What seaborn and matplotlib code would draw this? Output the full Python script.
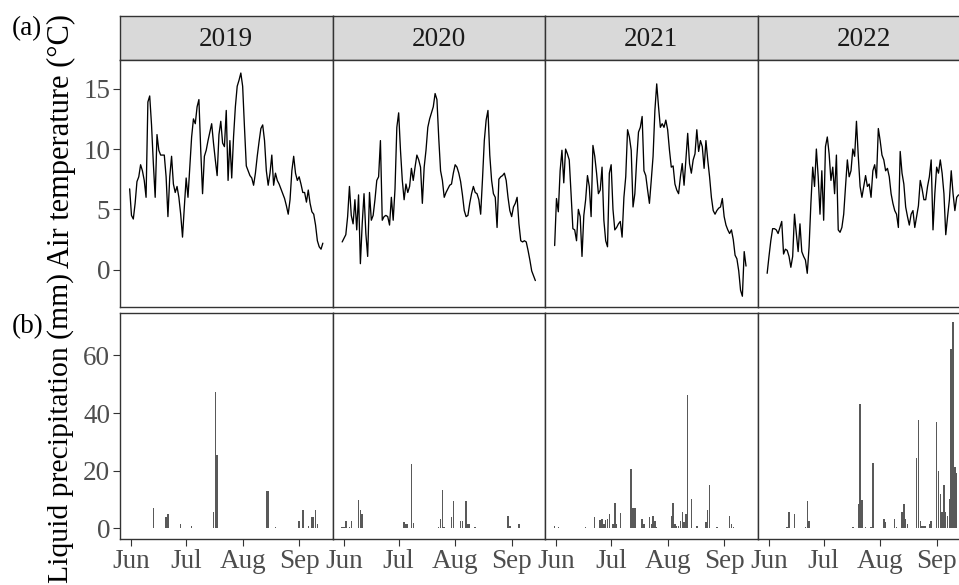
import numpy as np
import pandas as pd
import matplotlib
matplotlib.use("Agg")
import matplotlib.pyplot as plt
import seaborn as sns

# ---------------------------------------------------------------------------
# Daily series, 31 May onwards (index 0 = 31 May)
# ---------------------------------------------------------------------------
years = [2019, 2020, 2021, 2022]
month_labels = ["Jun", "Jul", "Aug", "Sep"]

temp_2019 = [6.7, 4.5, 4.2, 5.5, 7.3, 7.7, 8.7, 8.2, 7.4, 6.0,
             13.9, 14.4, 12.0, 8.8, 6.0, 11.2, 9.9, 9.5, 9.5, 9.5,
             7.7, 4.4, 7.7, 9.4, 7.1, 6.4, 6.9, 6.0, 4.6, 2.7,
             5.2, 7.6, 6.0, 8.5, 11.0, 12.5, 12.1, 13.5, 14.1, 9.9,
             6.3, 9.4, 9.9, 10.7, 11.4, 12.1, 10.5, 9.1, 7.8, 11.2,
             12.3, 10.5, 10.2, 13.2, 7.4, 10.7, 7.6, 11.0, 13.5, 15.2,
             15.7, 16.3, 15.2, 11.8, 8.6, 8.2, 7.8, 7.6, 7.0, 8.0,
             9.4, 10.6, 11.7, 12.0, 10.7, 8.2, 7.0, 8.0, 9.5, 7.0,
             8.0, 7.4, 7.1, 6.7, 6.3, 5.9, 5.3, 4.6, 5.8, 8.2,
             9.4, 8.0, 7.4, 7.7, 7.1, 6.4, 6.4, 5.6, 6.6, 5.5,
             4.8, 4.6, 3.7, 2.4, 1.9, 1.7, 2.2]

temp_2020 = [2.3, 2.6, 2.9, 4.4, 6.9, 4.5, 3.8, 5.8, 3.3, 6.2,
             0.5, 3.8, 6.3, 3.0, 1.1, 6.4, 4.1, 4.5, 5.8, 7.4,
             7.7, 10.7, 4.1, 4.4, 4.5, 4.4, 3.7, 6.0, 4.1, 6.7,
             11.8, 13.0, 9.9, 7.4, 5.8, 7.1, 6.4, 6.9, 8.4, 7.4,
             8.5, 9.5, 9.1, 8.5, 5.5, 8.5, 9.9, 11.8, 12.5, 13.0,
             13.5, 14.6, 14.1, 10.9, 8.2, 7.4, 6.0, 6.4, 6.7, 7.0,
             7.1, 8.0, 8.7, 8.5, 8.0, 7.3, 6.2, 4.9, 4.4, 4.5,
             5.5, 6.3, 6.9, 6.4, 6.3, 5.8, 4.6, 7.5, 10.7, 12.4,
             13.2, 9.5, 7.4, 6.3, 6.0, 3.5, 7.5, 7.7, 7.8, 8.0,
             7.4, 6.0, 4.9, 4.4, 5.2, 5.5, 6.0, 3.8, 2.4, 2.3,
             2.4, 2.3, 1.6, 0.8, -0.1, -0.5, -0.9]

temp_2021 = [2.0, 5.9, 4.8, 8.2, 9.9, 7.2, 10.0, 9.6, 9.1, 6.3,
             3.4, 3.3, 2.4, 5.0, 4.4, 1.1, 4.5, 5.8, 7.8, 6.9,
             4.4, 10.3, 9.4, 8.0, 6.3, 6.6, 8.5, 4.1, 2.4, 1.9,
             8.0, 8.7, 5.0, 3.3, 3.5, 3.8, 4.0, 2.7, 6.0, 7.7,
             11.6, 11.0, 9.9, 5.2, 6.3, 9.1, 11.4, 11.8, 12.7, 8.2,
             7.8, 6.6, 5.5, 7.4, 9.4, 13.2, 15.4, 13.5, 11.8, 12.1,
             11.8, 12.4, 11.6, 9.9, 8.5, 8.6, 7.1, 6.6, 6.3, 7.7,
             8.8, 7.0, 9.1, 11.3, 8.8, 8.0, 9.1, 9.6, 11.6, 9.8,
             10.7, 10.2, 8.4, 10.7, 9.1, 7.7, 6.0, 4.9, 4.6, 4.9,
             5.1, 5.2, 5.9, 4.4, 3.7, 3.3, 3.0, 3.3, 2.5, 1.2,
             0.9, -0.1, -1.7, -2.2, 1.5, 0.3]

temp_2022 = [-0.3, 1.1, 2.4, 3.4, 3.4, 3.3, 3.0, 3.5, 4.0, 1.3,
             1.7, 1.6, 1.1, 0.2, 1.1, 4.6, 3.0, 1.5, 3.8, 1.5,
             1.1, 0.8, -0.3, 1.9, 5.5, 8.5, 6.9, 10.0, 7.7, 4.6,
             8.2, 4.1, 10.2, 11.0, 9.6, 7.4, 8.5, 6.3, 9.5, 3.3,
             3.1, 3.5, 4.6, 6.9, 9.1, 7.7, 8.2, 10.0, 9.4, 12.3,
             9.4, 6.9, 6.0, 6.9, 7.8, 6.9, 7.1, 6.0, 8.2, 8.7,
             7.6, 11.7, 10.7, 9.5, 9.1, 8.2, 8.4, 7.7, 6.3, 5.5,
             4.9, 4.6, 3.5, 9.8, 8.0, 7.1, 5.2, 4.4, 3.7, 4.6,
             4.9, 3.5, 4.4, 5.3, 7.4, 6.7, 5.8, 5.8, 6.9, 7.7,
             9.1, 3.3, 6.3, 8.5, 8.0, 9.1, 8.0, 6.3, 2.9, 4.4,
             5.8, 8.2, 6.3, 4.9, 6.0, 6.2]

# Rain days (index from 31 May) and liquid precipitation amounts (mm)
rain_day_2019 = [13, 20, 21, 28, 34, 46, 47, 48, 75, 76, 80, 93, 95, 98,
                 100, 101, 102, 103]
rain_mm_2019 = [7.1, 3.9, 5.0, 1.5, 0.9, 5.6, 47.4, 25.5, 12.8, 12.8, 0.4,
                2.7, 6.2, 0.9, 3.9, 3.9, 6.5, 1.5]

rain_day_2020 = [0, 1, 2, 4, 5, 9, 10, 11, 34, 35, 36, 38, 39, 53, 54, 55,
                 56, 60, 61, 65, 66, 68, 69, 70, 73, 91, 92, 97]
rain_mm_2020 = [0.3, 0.3, 2.7, 0.4, 2.5, 10.0, 6.2, 5.0, 2.3, 1.5, 1.5, 22.2,
                1.8, 0.5, 3.3, 13.2, 0.4, 3.9, 9.5, 2.7, 2.7, 9.5, 1.5, 1.5,
                0.4, 4.4, 0.9, 1.5]

rain_day_2021 = [0, 2, 17, 22, 25, 26, 27, 28, 29, 30, 32, 33, 34, 36, 42,
                 43, 44, 48, 49, 52, 53, 54, 55, 56, 64, 65, 66, 67, 68, 69,
                 70, 71, 72, 73, 75, 78, 83, 84, 85, 89, 96, 97, 98]
rain_mm_2021 = [0.9, 0.6, 0.6, 3.9, 2.9, 3.3, 1.5, 2.9, 3.3, 5.0, 1.5, 8.8,
                1.5, 5.4, 20.5, 7.1, 7.1, 3.3, 1.5, 3.9, 1.5, 4.4, 2.7, 0.6,
                4.4, 8.9, 1.5, 0.9, 0.9, 2.7, 5.6, 2.1, 4.8, 46.2, 10.3, 0.9,
                2.1, 6.2, 15.0, 0.4, 4.4, 1.5, 0.6]

rain_day_2022 = [11, 12, 15, 21, 22, 23, 47, 50, 51, 52, 54, 57, 58, 64, 65,
                 70, 71, 74, 75, 76, 77, 82, 83, 84, 85, 86, 87, 89, 90, 93,
                 94, 95, 96, 97, 98, 99, 100, 101, 102, 103, 104]
rain_mm_2022 = [0.6, 5.6, 5.0, 0.6, 9.5, 2.7, 0.6, 8.3, 43.0, 9.9, 0.6, 0.6,
                22.6, 3.3, 2.1, 3.3, 0.6, 5.6, 8.3, 3.3, 1.5, 24.3, 37.5, 2.7,
                0.9, 0.9, 0.9, 1.5, 2.5, 37.0, 19.9, 12.0, 5.6, 15.0, 5.6,
                4.4, 10.3, 62.3, 71.7, 21.4, 19.1]

temps = {2019: temp_2019, 2020: temp_2020, 2021: temp_2021, 2022: temp_2022}
rain_days = {2019: rain_day_2019, 2020: rain_day_2020,
             2021: rain_day_2021, 2022: rain_day_2022}
rain_mms = {2019: rain_mm_2019, 2020: rain_mm_2020,
            2021: rain_mm_2021, 2022: rain_mm_2022}

# ---------------------------------------------------------------------------
# Long tables; x = days since 1 June of the same year
# ---------------------------------------------------------------------------
t_rows, p_rows = [], []
for y in years:
    dates = pd.date_range(f"{y}-05-31", periods=len(temps[y]), freq="D")
    day = (dates - pd.Timestamp(f"{y}-06-01")).days
    t_rows.append(pd.DataFrame({"year": y, "day": day, "temp": temps[y]}))
    rain = np.zeros(len(dates))
    rain[rain_days[y]] = rain_mms[y]
    p_rows.append(pd.DataFrame({"year": y, "day": day, "rain": rain}))
df_t = pd.concat(t_rows, ignore_index=True)
df_p = pd.concat(p_rows, ignore_index=True)

month_ticks = [(pd.Timestamp(2019, m, 1) - pd.Timestamp(2019, 6, 1)).days
               for m in (6, 7, 8, 9)]
day_min, day_max = df_t["day"].min(), df_t["day"].max()
pad = 0.05 * (day_max - day_min)
xlim = (day_min - pad, day_max + pad)

# ---------------------------------------------------------------------------
# Figure
# ---------------------------------------------------------------------------
sns.set_theme(style="white")
plt.rcParams["font.family"] = ["Liberation Serif", "DejaVu Serif"]

W, H = 959, 585
fig = plt.figure(figsize=(W / 100, H / 100), dpi=100)


def add_ax(left, top, width, height):
    return fig.add_axes([left / W, 1 - (top + height) / H, width / W, height / H])


edge = "#333333"
tick_col = "#4D4D4D"
fs = 19.5
panel_w = 212.5

for i, y in enumerate(years):
    left = 120 + panel_w * i
    strip = add_ax(left, 16, panel_w, 44)
    ax_t = add_ax(left, 60, panel_w, 246.5)
    ax_p = add_ax(left, 313, panel_w, 226)

    # facet strip
    strip.set_facecolor("#D9D9D9")
    strip.set_xticks([])
    strip.set_yticks([])
    strip.text(0.5, 0.47, str(y), ha="center", va="center",
               fontsize=fs, color="#1A1A1A", transform=strip.transAxes)

    sns.lineplot(data=df_t[df_t["year"] == y], x="day", y="temp",
                 color="black", linewidth=0.95, estimator=None, ax=ax_t)
    sns.barplot(data=df_p[df_p["year"] == y], x="day", y="rain",
                native_scale=True, color="#595959", saturation=1,
                width=0.8, linewidth=0, errorbar=None, ax=ax_p)

    for ax in (strip, ax_t, ax_p):
        for s in ax.spines.values():
            s.set_color(edge)
            s.set_linewidth(1.0)
            s.set_visible(True)

    ax_t.set_xlim(xlim)
    ax_p.set_xlim(xlim)
    ax_t.set_ylim(-3.05, 17.38)
    ax_p.set_ylim(-3.7, 74.7)
    ax_t.set_yticks([0, 5, 10, 15])
    ax_p.set_yticks([0, 20, 40, 60])
    ax_t.set_xticks([])
    ax_p.set_xticks(month_ticks)
    ax_p.set_xticklabels(month_labels)
    for ax in (ax_t, ax_p):
        ax.set_xlabel("")
        ax.set_ylabel("")
        ax.set_facecolor("white")
        ax.tick_params(axis="both", which="major", length=5, width=0.8,
                       color=edge, labelcolor=tick_col, labelsize=fs, pad=2)
        ax.tick_params(axis="x", bottom=True)
        ax.tick_params(axis="y", left=True)
        if i > 0:
            ax.tick_params(axis="y", left=False, labelleft=False)
    ax_t.tick_params(axis="x", bottom=False, labelbottom=False)

# Axis titles and panel tags
fig.text(61 / W, 1 - 141 / H, "Air temperature (°C)", rotation=90,
         ha="center", va="center", fontsize=22, color="black")
fig.text(61 / W, 1 - 428 / H, "Liquid precipitation (mm)", rotation=90,
         ha="center", va="center", fontsize=21.3, color="black")
fig.text(27 / W, 1 - 29 / H, "(a)", ha="center", va="center",
         fontsize=fs, color="black")
fig.text(28 / W, 1 - 327 / H, "(b)", ha="center", va="center",
         fontsize=fs, color="black")

fig.savefig("out.png", dpi=100)
